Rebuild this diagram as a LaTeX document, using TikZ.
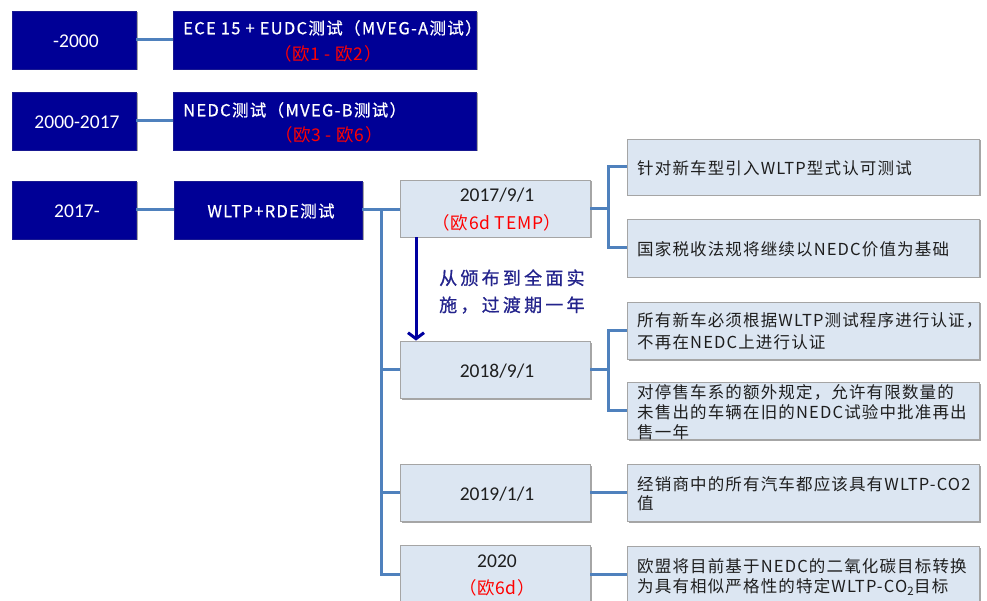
\documentclass[tikz,border=0pt]{standalone}
\usepackage{fontspec}
\setmainfont{Carlito}
\newfontfamily\cjk[LetterSpace=4]{Noto Sans CJK SC}
\newfontfamily\cjkd[LetterSpace=8,FakeBold=0.6]{Noto Sans CJK SC}
\newfontfamily\cjkr[LetterSpace=7]{Noto Sans CJK SC}
\newfontfamily\cjkw[LetterSpace=18,FakeBold=0.8]{Noto Sans CJK SC}
\usetikzlibrary{arrows.meta,shadows}
\definecolor{navybox}{RGB}{0,0,150}
\definecolor{lightfill}{RGB}{220,230,242}
\definecolor{lightborder}{RGB}{165,165,165}
\definecolor{connc}{RGB}{79,129,189}
\definecolor{redtxt}{RGB}{255,0,0}
\definecolor{arrowblue}{RGB}{0,0,160}
\definecolor{arrowtxt}{RGB}{35,35,140}
\definecolor{darktxt}{RGB}{30,30,30}
\tikzset{
  boxshadow/.style={drop shadow={shadow xshift=1.5pt,shadow yshift=-1.5pt,fill=black,opacity=0.35}},
  darkbox/.style={rectangle,fill=navybox,draw=navybox!80!gray,line width=0.6pt,boxshadow,inner sep=0pt},
  lightbox/.style={rectangle,fill=lightfill,draw=lightborder,line width=0.8pt,boxshadow,inner sep=0pt},
  conn/.style={draw=connc,line width=3pt},
  arr/.style={draw=arrowblue,line width=3pt,-{Straight Barb[length=6pt,width=16pt]}},
  wnum/.style={text=white,font=\fontsize{19.5}{22}\selectfont,inner sep=0pt},
  bnum/.style={text=darktxt,font=\fontsize{19.5}{22}\selectfont,inner sep=0pt},
  wcjk/.style={text=white,font=\cjkd\fontsize{16.5}{20}\selectfont,inner sep=0pt,anchor=west},
  redcjk/.style={text=redtxt,font=\cjk\fontsize{17.5}{20}\selectfont,inner sep=0pt},
  rtxt/.style={text=darktxt,font=\cjkr\fontsize{16.5}{20}\selectfont,inner sep=0pt,anchor=west,align=left},
}
\begin{document}
\begin{tikzpicture}[x=1pt,y=-1pt]
\clip (0,0) rectangle (987,601);
\fill[white] (0,0) rectangle (987,601);
% dark boxes
\node[darkbox,minimum width=124pt,minimum height=58pt] (a1) at (74,40) {};
\node[darkbox,minimum width=303pt,minimum height=58pt] (a2) at (324.5,40) {};
\node[darkbox,minimum width=124pt,minimum height=58pt] (b1) at (74,121) {};
\node[darkbox,minimum width=303pt,minimum height=58pt] (b2) at (324.5,121) {};
\node[darkbox,minimum width=124pt,minimum height=58pt] (c1) at (74,210) {};
\node[darkbox,minimum width=188pt,minimum height=58pt] (c2) at (268,210) {};
% light boxes (middle column)
\node[lightbox,minimum width=190pt,minimum height=57pt] (d1) at (495,208.5) {};
\node[lightbox,minimum width=190pt,minimum height=57pt] (d2) at (495,369.5) {};
\node[lightbox,minimum width=190pt,minimum height=57pt] (g1) at (495,492.5) {};
\node[lightbox,minimum width=190pt,minimum height=58pt] (h1) at (495,574) {};
% light boxes (right column)
\node[lightbox,minimum width=352pt,minimum height=56pt] (e1) at (803,167) {};
\node[lightbox,minimum width=352pt,minimum height=58pt] (e2) at (803,248) {};
\node[lightbox,minimum width=352pt,minimum height=57pt] (f1) at (803,330.5) {};
\node[lightbox,minimum width=352pt,minimum height=57pt] (f2) at (803,410.5) {};
\node[lightbox,minimum width=352pt,minimum height=57pt] (g2) at (803,492.5) {};
\node[lightbox,minimum width=352pt,minimum height=57pt] (h2) at (803,574.5) {};
% texts in dark boxes
\node[wnum] (ta1) at (76,41) {-2000};
\node[wcjk] (ta2) at (183,28) {ECE 15 + EUDC测试（MVEG-A测试）};
\node[redcjk] (ta2r) at (328,54) {（欧1 - 欧2）};
\node[wnum] (tb1) at (77,122) {2000-2017};
\node[wcjk] (tb2) at (183,110) {NEDC测试（MVEG-B测试）};
\node[redcjk] (tb2r) at (329,135) {（欧3 - 欧6）};
\node[wnum] (tc1) at (77,211) {2017-};
\node[wcjk,anchor=center] (tc2) at (271,211) {WLTP+RDE测试};
% texts in middle boxes
\node[bnum] (td1) at (497,195) {2017/9/1};
\node[redcjk] (td1r) at (497,223) {（欧6d TEMP）};
\node[bnum] (td2) at (497,371) {2018/9/1};
\node[bnum] (tg1) at (497,494) {2019/1/1};
\node[bnum] (th1) at (497,561) {2020};
\node[redcjk] (th1r) at (497,588) {（欧6d）};
% texts in right boxes
\node[rtxt] (te1) at (637,168) {针对新车型引入WLTP型式认可测试};
\node[rtxt] (te2) at (637,249) {国家税收法规将继续以NEDC价值为基础};
\node[rtxt,font=\cjkr\fontsize{16.5}{22}\selectfont] (tf1) at (637,331) {所有新车必须根据WLTP测试程序进行认证，\\不再在NEDC上进行认证};
\node[rtxt] (tf2) at (637,412) {对停售车系的额外规定，允许有限数量的\\未售出的车辆在旧的NEDC试验中批准再出\\售一年};
\node[rtxt,font=\cjkr\fontsize{16.5}{19}\selectfont] (tg2) at (637,494) {经销商中的所有汽车都应该具有WLTP-CO2\\值};
\node[rtxt] (th2) at (637,577) {欧盟将目前基于NEDC的二氧化碳目标转换\\为具有相似严格性的特定WLTP-CO\textsubscript{2}目标};
% arrow text
\node[text=arrowtxt,font=\cjkw\fontsize{18}{27}\selectfont,inner sep=0pt,anchor=west,align=left] (tarr) at (439,291.5) {从颁布到全面实\\施，过渡期一年};
% connectors
\draw[conn] (a1.east) -- (a2.west);
\draw[conn] (b1.east) -- (b2.west);
\draw[conn] (c1.east) -- (c2.west);
\draw[conn] (c2.east) -- (c2.east -| d1.west);
\coordinate (tk) at (381,0);
\draw[conn] (tk |- c2.east) -- (tk |- h1.west) -- (h1.west);
\draw[conn] (tk |- d2.west) -- (d2.west);
\draw[conn] (tk |- g1.west) -- (g1.west);
\coordinate (rb) at (608,0);
\draw[conn] (d1.east) -- (d1.east -| rb);
\draw[conn] (e1.west) -- (e1.west -| rb) -- (e2.west -| rb) -- (e2.west);
\draw[conn] (d2.east) -- (d2.east -| rb);
\draw[conn] (f1.west) -- (f1.west -| rb) -- (f2.west -| rb) -- (f2.west);
\draw[conn] (g1.east) -- (g2.west);
\draw[conn] (h1.east) -- (h1.east -| h2.west);
% arrow
\coordinate (ax) at (416,0);
\draw[arr] (d1.south -| ax) -- (d2.north -| ax);
\end{tikzpicture}
\end{document}
